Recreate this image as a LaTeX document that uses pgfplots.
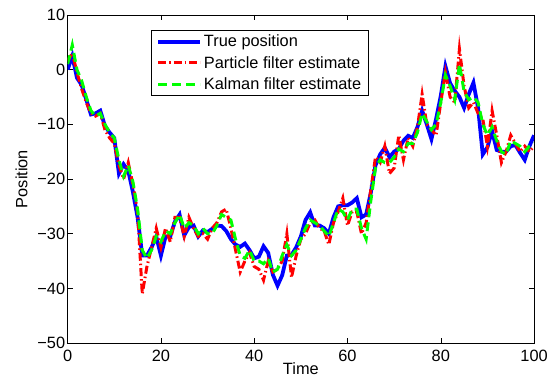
\documentclass[border=0pt]{standalone}
\usepackage{pgfplots}
\pgfplotsset{compat=1.18}
\usepackage{pgfplotstable}
\usepackage{fontspec}
\setmainfont{Liberation Sans}

\pgfplotstableread{
t true pf kf
0 0 1.5 1
1 2.5 3 4.5
2 -1.5 -0.5 0
3 -2.8 -3.5 -2
4 -5.5 -6 -5
5 -8.2 -8 -7.5
6 -8 -8.5 -8.5
7 -7.5 -8 -8
8 -10.3 -11 -10
9 -11.5 -12.5 -11.5
10 -12.5 -13.5 -12.5
11 -19 -17.5 -16.5
12 -17.3 -20 -19.5
13 -18.5 -17 -17.5
14 -22.4 -21 -20.5
15 -27 -26 -25.5
16 -34 -41 -33
17 -34 -36 -34.5
18 -32.5 -32.5 -33
19 -30.5 -29 -30.5
20 -34 -32.5 -31.5
21 -30.5 -29 -29.5
22 -30.5 -31.5 -30
23 -27.8 -27 -28
24 -26.5 -27 -26.5
25 -30.3 -30.5 -29
26 -28.8 -27 -28
27 -28.5 -29 -28.5
28 -30.5 -30.5 -30
29 -29.4 -30 -29
30 -29.7 -31 -30
31 -29.1 -29 -30
32 -28.5 -28 -28.5
33 -28.6 -26 -26.5
34 -29.5 -25.5 -27
35 -31 -29 -27.5
36 -32 -33 -31
37 -32.4 -37 -34
38 -31.8 -35 -34.5
39 -33 -33.5 -33
40 -34.5 -36 -35
41 -34.2 -36.5 -35
42 -32.3 -38.5 -35.5
43 -33.5 -35 -34.5
44 -37.5 -37 -37
45 -39.5 -36.5 -36.5
46 -37.6 -35 -34
47 -34 -30 -32
48 -33.9 -38 -34
49 -32.5 -34 -33
50 -30.5 -31 -31
51 -27.5 -30 -29
52 -26.1 -28 -27.5
53 -28.5 -27.5 -28
54 -28.5 -29 -28.5
55 -29 -29.5 -29.5
56 -30 -32 -30.5
57 -27 -28 -28
58 -25 -26 -25.5
59 -24.8 -23.5 -26
60 -24.8 -28.5 -27.5
61 -24.3 -26 -25.5
62 -23.5 -26 -25.5
63 -27 -30 -29
64 -26.5 -28 -31
65 -22.5 -22 -24
66 -17.5 -16 -18
67 -15.5 -17 -16.5
68 -14.3 -14 -17
69 -16 -19 -17
70 -15 -18 -16
71 -14.5 -12 -14.5
72 -13 -16.5 -15
73 -12.1 -12.5 -13.5
74 -12.5 -14 -13.5
75 -10.5 -10.5 -11.5
76 -7.5 -4.5 -8
77 -10 -10 -9.5
78 -12.7 -11 -11
79 -9 -12 -10
80 -4.8 -6 -6
81 0.6 -0.5 -1
82 -2.5 -5 -3
83 -3.9 -6 -5.5
84 -5 3.8 1
85 -7 -3 -4
86 -4.5 -7 -5.5
87 -2.4 -6 -5
88 -7 -8 -6
89 -15.5 -9 -10
90 -14.2 -14 -12
91 -11.2 -7.5 -10.5
92 -14.7 -12 -13
93 -15 -17 -15
94 -15 -15 -15.5
95 -14 -12 -13
96 -13.8 -13.5 -13.5
97 -15.2 -15 -14
98 -16.5 -14 -15
99 -14 -15 -14
100 -12 -14 -13.5
}\datatable

\begin{document}
\begin{tikzpicture}[font=\fontsize{16.5}{18}\selectfont]
\begin{axis}[
  scale only axis,
  width=469bp, height=330bp,
  xmin=0, xmax=100, ymin=-50, ymax=10,
  xtick={0,20,...,100},
  ytick={-50,-40,...,10},
  yticklabels={−50,−40,−30,−20,−10,0,10},
  /pgf/number format/assume math mode=true,
  tick align=inside,
  major tick length=5bp,
  tick style={black, line width=0.5pt},
  axis line style={line width=0.7pt},
  xticklabel style={yshift=-3bp},
  yticklabel style={xshift=1bp},
  xlabel={Time}, ylabel={Position},
  xlabel style={yshift=5bp},
  ylabel style={yshift=3bp},
  legend style={at={(0.179,0.955)}, anchor=north west, draw=black, line width=0.7pt,
    inner xsep=5bp, inner ysep=3bp, row sep=4bp, font=\fontsize{16.5}{18}\selectfont},
  legend cell align=left,
  legend image code/.code={\draw[#1] (0bp,0bp) -- (42bp,0bp);},
]
\addplot[blue, line width=3.8bp] table[x=t, y=true] {\datatable};
\addlegendentry{True position}
\addplot[red, line width=3bp, dash pattern=on 8bp off 3bp on 1.5bp off 3bp] table[x=t, y=pf] {\datatable};
\addlegendentry{Particle filter estimate}
\addplot[green, line width=3bp, dash pattern=on 9bp off 5bp] table[x=t, y=kf] {\datatable};
\addlegendentry{Kalman filter estimate}
\end{axis}
\path ([xshift=-68bp,yshift=-44bp]current axis.south west) rectangle ([xshift=14bp,yshift=15bp]current axis.north east);
\end{tikzpicture}
\end{document}
